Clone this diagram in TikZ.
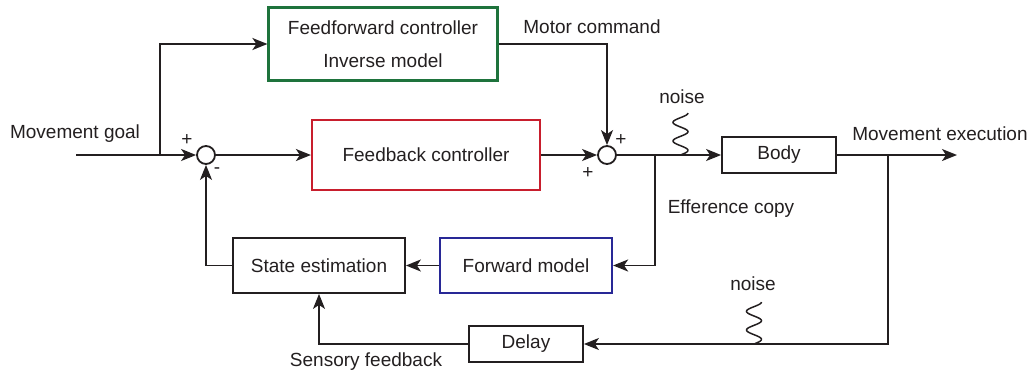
\documentclass[tikz,border=0pt]{standalone}
\usepackage{fontspec}
\setmainfont{Liberation Sans}
\usetikzlibrary{arrows.meta}
\definecolor{ink}{RGB}{35,31,32}
\definecolor{ffgreen}{RGB}{30,115,60}
\definecolor{fbred}{RGB}{200,30,45}
\definecolor{fmblue}{RGB}{40,40,150}
\begin{document}
\begin{tikzpicture}[x=1bp,y=-1bp,
  every node/.style={text=ink,font=\fontsize{19bp}{33bp}\selectfont},
  blk/.style={draw=ink,line width=1.8bp,rectangle,inner sep=0pt,align=center},
  sumc/.style={draw=ink,line width=1.8bp,circle,minimum size=18bp,inner sep=0pt},
  sgn/.style={font=\fontsize{19bp}{19bp}\selectfont,inner sep=0pt},
  wire/.style={draw=ink,line width=1.8bp},
  arr/.style={wire,-{Stealth[length=15bp,width=12bp,inset=4bp]}},
  squig/.style={draw=ink,line width=1.5bp}
]
\useasboundingbox (0,0) rectangle (1031,375);

% blocks
\node[blk,draw=ffgreen,line width=2.2bp,minimum width=229bp,minimum height=73bp] (ff) at (383,44) {Feedforward controller\\Inverse model};
\node[blk,draw=fbred,line width=2.2bp,minimum width=228bp,minimum height=70bp] (fb) at (426,155) {Feedback controller};
\node[blk,minimum width=114bp,minimum height=36bp] (body) at (779,155) {Body};
\node[blk,minimum width=172bp,minimum height=55bp] (se) at (319,265.5) {State estimation};
\node[blk,draw=fmblue,line width=2.2bp,minimum width=172bp,minimum height=55bp] (fm) at (526,265.5) {Forward model};
\node[blk,minimum width=114bp,minimum height=36bp] (delay) at (526,344) {Delay};

% summing junctions
\node[sumc] (s1) at (206,155) {};
\node[sumc] (s2) at (607,155) {};

% signs
\node[sgn] (p1) at (187,140) {+};
\node[sgn] (m1) at (217,171) {-};
\node[sgn] (p2) at (621,140) {+};
\node[sgn] (p3) at (588,173) {+};

% labels
\node (goal) at (75,134) {Movement goal};
\node (exec) at (940,134) {Movement execution};
\node (mc) at (592,27) {Motor command};
\node (ec) at (731,209) {Efference copy};
\node (sf) at (366,362) {Sensory feedback};
\node (n1) at (682,97) {noise};
\node (n2) at (753,284) {noise};

% coordinates
\coordinate (in) at (76,155);
\coordinate (b1) at (160,155);
\coordinate (b2) at (655,155);
\coordinate (b3) at (888,155);
\coordinate (out) at (957,155);

% connectors
\draw[arr] (in) -- (s1.west);
\draw[arr] (b1) |- (ff.west);
\draw[arr] (ff.east |- 0,44) -| (s2.north);
\draw[arr] (s1.east) -- (fb.west);
\draw[arr] (fb.east) -- (s2.west);
\draw[arr] (s2.east) -- (body.west);
\draw[arr] (b2) |- (fm.east);
\draw[arr] (fm.west) -- (se.east);
\draw[arr] (se.west) -| (s1.south);
\draw[arr] (body.east) -- (out);
\draw[arr] (b3) |- (delay.east);
\draw[arr] (delay.west) -| (se.south);

% noise squiggles
\draw[squig] plot[smooth,domain=0:1,samples=60] ({680.5 + 7.5*cos(\x*810)},{113 + 42*\x});
\draw[squig] plot[smooth,domain=0:1,samples=60] ({754 + 7.5*cos(\x*810)},{302 + 42*\x});
\end{tikzpicture}
\end{document}
